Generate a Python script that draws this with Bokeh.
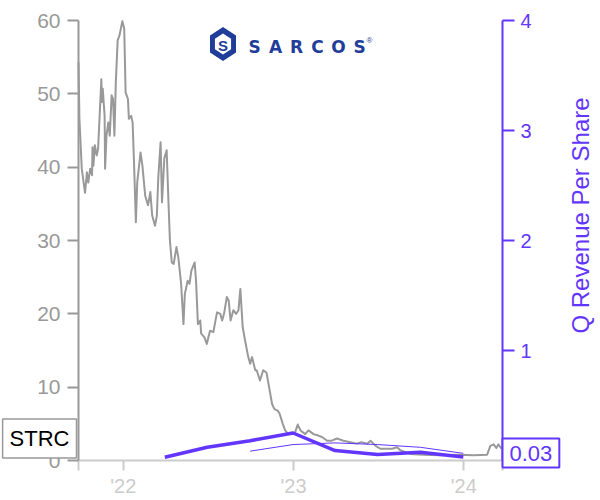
import pandas as pd
from bokeh.plotting import figure
from bokeh.models import Range1d, LinearAxis, FixedTicker, Label, PolyAnnotation
from bokeh.embed import file_html
from bokeh.resources import INLINE

# ---------------- data ----------------
price_dates = [
    "2021-09-27", "2021-09-29", "2021-10-04", "2021-10-11", "2021-10-15", "2021-10-18",
    "2021-10-22", "2021-10-26", "2021-10-27", "2021-10-29", "2021-11-01", "2021-11-05",
    "2021-11-08", "2021-11-15", "2021-11-16", "2021-11-18", "2021-11-22", "2021-11-23",
    "2021-11-26", "2021-11-30", "2021-12-03", "2021-12-07", "2021-12-10", "2021-12-13",
    "2021-12-16", "2021-12-20", "2021-12-24", "2021-12-30", "2022-01-03", "2022-01-06",
    "2022-01-11", "2022-01-13", "2022-01-18", "2022-01-21", "2022-01-24", "2022-01-28",
    "2022-01-31", "2022-02-07", "2022-02-11", "2022-02-17", "2022-02-23", "2022-02-28",
    "2022-03-04", "2022-03-10", "2022-03-14", "2022-03-17", "2022-03-22", "2022-03-25",
    "2022-03-30", "2022-04-04", "2022-04-08", "2022-04-11", "2022-04-15", "2022-04-19",
    "2022-04-25", "2022-04-29", "2022-05-05", "2022-05-10", "2022-05-13", "2022-05-19",
    "2022-05-23", "2022-05-27", "2022-06-03", "2022-06-06", "2022-06-10", "2022-06-15",
    "2022-06-17", "2022-06-24", "2022-06-29", "2022-07-06", "2022-07-13", "2022-07-21",
    "2022-07-28", "2022-08-01", "2022-08-05", "2022-08-11", "2022-08-15", "2022-08-19",
    "2022-08-25", "2022-08-31", "2022-09-05", "2022-09-09", "2022-09-14", "2022-09-19",
    "2022-09-26", "2022-09-30", "2022-10-04", "2022-10-11", "2022-10-14", "2022-10-21",
    "2022-10-28", "2022-11-04", "2022-11-11", "2022-11-16", "2022-11-21", "2022-11-28",
    "2022-12-02", "2022-12-09", "2022-12-14", "2022-12-21", "2023-01-03", "2023-01-10",
    "2023-01-16", "2023-01-26", "2023-02-02", "2023-02-13", "2023-02-23", "2023-03-03",
    "2023-03-14", "2023-03-24", "2023-04-04", "2023-04-18", "2023-05-03", "2023-05-17",
    "2023-05-26", "2023-06-08", "2023-06-15", "2023-06-26", "2023-07-06", "2023-07-20",
    "2023-07-31", "2023-08-11", "2023-08-18", "2023-09-08", "2023-10-06", "2023-11-10",
    "2023-12-22", "2024-01-22", "2024-02-20", "2024-02-27", "2024-03-05", "2024-03-11",
    "2024-03-15", "2024-03-22",
]
price_values = [
    54.3, 46.6, 39.8, 36.5, 39.3, 37.9,
    39.8, 38.9, 42.7, 40.2, 43.0, 41.6,
    42.5, 52.0, 48.9, 50.7, 47.0, 39.8,
    44.3, 46.1, 44.3, 49.8, 49.3, 44.3,
    51.6, 57.3, 58.0, 59.9, 58.9, 50.2,
    49.3, 46.6, 47.0, 46.1, 40.7, 32.5,
    38.0, 42.0, 40.2, 36.1, 34.8, 36.6,
    33.4, 32.0, 33.4, 38.5, 43.4, 35.2,
    41.2, 42.3, 35.0, 30.0, 27.0, 26.8,
    29.1, 27.7, 24.1, 18.6, 22.7, 24.5,
    24.1, 25.9, 27.0, 24.5, 18.6, 19.1,
    17.3, 16.8, 15.9, 17.7, 17.5, 20.2,
    20.0, 19.1, 20.0, 22.3, 21.8, 19.1,
    20.5, 20.0, 20.5, 23.4, 18.2, 16.4,
    14.1, 13.2, 14.1, 12.3, 12.3, 10.9,
    12.3, 12.0, 9.5, 7.7, 7.0, 6.8,
    6.4, 5.0, 4.1, 3.6, 3.6, 4.9,
    4.1, 3.6, 4.1, 3.6, 3.4, 3.2,
    2.7, 2.7, 3.0, 2.7, 2.5, 2.3,
    2.5, 2.3, 2.7, 2.0, 1.6, 1.6,
    1.6, 1.8, 1.4, 0.9, 0.8, 0.7,
    0.8, 0.7, 0.8, 2.0, 2.2, 1.7,
    2.2, 1.6,
]

rev_dates = ["2022-03-31", "2022-06-30", "2022-09-30", "2022-12-31",
             "2023-03-31", "2023-06-30", "2023-09-30", "2023-12-31"]
rev_values = [0.03, 0.12, 0.18, 0.25, 0.09, 0.055, 0.075, 0.032]

trend_dates = ["2022-09-30", "2022-12-31", "2023-03-31", "2023-06-30",
               "2023-09-30", "2023-12-31"]
trend_values = [0.085, 0.145, 0.16, 0.145, 0.12, 0.065]

x_tick_dates = ["2022-01-01", "2023-01-01", "2024-01-01"]
x_tick_labels = ["'22", "'23", "'24"]
left_ticks = [0, 10, 20, 30, 40, 50, 60]
right_ticks = [0, 1, 2, 3, 4]

ticker_name = "STRC"
last_label = "0.03"
right_title = "Q Revenue Per Share"
logo_letters = ["S", "A", "R", "C", "O", "S"]

# ---------------- styling / layout ----------------
GRAY = "#999999"
LIGHT = "#cccccc"
PURPLE = "#6236ff"
BLUE = "#1f3d99"
FONT = "Liberation Sans"
W, H = 600, 500
# plot area in canvas pixels
FL, FR, FT, FB = 78, 502, 20, 460
P_MAX, R_MAX = 60, 4


def ms(d):
    return pd.Timestamp(d).value / 1e6


x_start = ms("2021-09-27")
x_end = ms("2024-03-24")
x_per_px = (x_end - x_start) / (FR - FL)
p_per_px = P_MAX / (FB - FT)
r_per_px = R_MAX / (FB - FT)

# the frame covers the whole canvas; axes are pinned at the plot-area edges
p = figure(width=W, height=H, x_axis_type="datetime",
           x_range=Range1d(x_start - FL * x_per_px, x_end + (W - FR) * x_per_px),
           y_range=Range1d(-(H - FB) * p_per_px, P_MAX + FT * p_per_px),
           output_backend="svg", toolbar_location=None, min_border=0)
p.extra_y_ranges = {"rev": Range1d(-(H - FB) * r_per_px, R_MAX + FT * r_per_px)}
p.grid.visible = False
p.outline_line_color = None

# bottom axis
xa = p.xaxis[0]
xa.fixed_location = 0
xa.bounds = (x_start, x_end)
tick_vals = [x_start] + [ms(d) for d in x_tick_dates] + [x_end]
xa.ticker = FixedTicker(ticks=tick_vals)
overrides = {ms(d): lab for d, lab in zip(x_tick_dates, x_tick_labels)}
overrides[x_start] = ""
overrides[x_end] = ""
xa.major_label_overrides = overrides
xa.axis_line_color = LIGHT
xa.axis_line_width = 2
xa.major_tick_line_color = LIGHT
xa.major_tick_line_width = 2
xa.major_tick_out = 10
xa.major_tick_in = 0
xa.minor_tick_line_color = None
xa.major_label_text_color = LIGHT
xa.major_label_text_font = FONT
xa.major_label_text_font_size = "20px"
xa.major_label_standoff = 4

# left axis
ya = p.yaxis[0]
ya.fixed_location = x_start
ya.bounds = (0, P_MAX)
ya.ticker = FixedTicker(ticks=left_ticks)
ya.axis_line_color = GRAY
ya.axis_line_width = 2
ya.major_tick_line_color = GRAY
ya.major_tick_line_width = 2
ya.major_tick_out = 11
ya.major_tick_in = 0
ya.minor_tick_line_color = None
ya.major_label_text_color = GRAY
ya.major_label_text_font = FONT
ya.major_label_text_font_size = "21px"
ya.major_label_standoff = 7

# right axis
ra = LinearAxis(y_range_name="rev", ticker=FixedTicker(ticks=right_ticks),
                fixed_location=x_end, bounds=(0, R_MAX))
ra.axis_line_color = PURPLE
ra.axis_line_width = 2
ra.major_tick_line_color = PURPLE
ra.major_tick_line_width = 2
ra.major_tick_out = 12
ra.major_tick_in = 0
ra.minor_tick_line_color = None
ra.major_label_text_color = PURPLE
ra.major_label_text_font = FONT
ra.major_label_text_font_size = "20px"
ra.major_label_standoff = 6
p.add_layout(ra, "right")

# lines
p.line(pd.to_datetime(price_dates), price_values, line_color=GRAY, line_width=2,
       line_join="round")
p.line(pd.to_datetime(trend_dates), trend_values, y_range_name="rev",
       line_color=PURPLE, line_width=1)
p.line(pd.to_datetime(rev_dates), rev_values, y_range_name="rev",
       line_color=PURPLE, line_width=3.5, line_join="round")


# decoration helpers (canvas pixels, y measured from the top)
def px_x(px):
    return x_start + (px - FL) * x_per_px


def py_y(py):
    return (FB - py) * p_per_px


def canvas_label(px, py, text, **kw):
    return Label(x=px_x(px), y=py_y(py), text=text, **kw)


# ticker label box (left)
p.add_layout(canvas_label(76, 438, ticker_name,
                          text_align="right", text_baseline="middle",
                          text_font=FONT, text_font_size="22px", text_color="black",
                          padding=7, border_line_color=GRAY, border_line_width=1.5,
                          background_fill_color="white"))

# last value box (right)
p.add_layout(canvas_label(502, 452.5, last_label,
                          text_align="left", text_baseline="middle",
                          text_font=FONT, text_font_size="22px", text_color=PURPLE,
                          padding=7, border_line_color=PURPLE, border_line_width=2,
                          background_fill_color="white"))

# right axis title
p.add_layout(canvas_label(580, 215, right_title,
                          angle=90, angle_units="deg",
                          text_align="center", text_baseline="middle",
                          text_font=FONT, text_font_size="24px", text_color=PURPLE))

# logo: hexagon icon
cx, cy, hw, hh = 222.5, 43.5, 13, 17
outer = [(cx, cy - hh), (cx + hw, cy - hh / 2), (cx + hw, cy + hh / 2),
         (cx, cy + hh), (cx - hw, cy + hh / 2), (cx - hw, cy - hh / 2)]
k = 0.62
inner = [(cx + (a - cx) * k, cy + (b - cy) * k) for a, b in outer]
p.add_layout(PolyAnnotation(xs=[px_x(a) for a, b in outer], ys=[py_y(b) for a, b in outer],
                            fill_color=BLUE, fill_alpha=1, line_color=None))
p.add_layout(PolyAnnotation(xs=[px_x(a) for a, b in inner], ys=[py_y(b) for a, b in inner],
                            fill_color="white", fill_alpha=1, line_color=None))
p.add_layout(canvas_label(cx, cy + 1, "S", text_align="center",
                          text_baseline="middle", text_font=FONT, text_font_style="bold",
                          text_font_size="15px", text_color=BLUE))
for i, letter in enumerate(logo_letters):
    p.add_layout(canvas_label(254 + i * 21, 46, letter,
                              text_align="center", text_baseline="middle",
                              text_font="DejaVu Sans", text_font_style="bold",
                              text_font_size="17px", text_color=BLUE))
p.add_layout(canvas_label(369, 40, "®", text_align="center",
                          text_baseline="middle", text_font=FONT,
                          text_font_size="8px", text_color=BLUE))

open("out.html", "w").write(file_html(p, INLINE))
